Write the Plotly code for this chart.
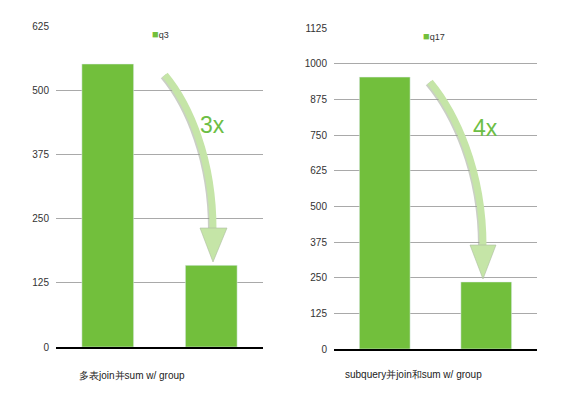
import plotly.graph_objects as go

# ---- data ----
left_categories = ["q3 before", "q3 after"]
left_values = [551, 159]
right_categories = ["q17 before", "q17 after"]
right_values = [953, 235]
left_series = "q3"
right_series = "q17"
left_title = "多表join并sum w/ group"
right_title = "subquery并join和sum w/ group"
left_ratio = "3x"
right_ratio = "4x"
left_ticks = [0, 125, 250, 375, 500, 625]
right_ticks = [0, 125, 250, 375, 500, 625, 750, 875, 1000, 1125]

BAR = "#72BF3C"
ARROW = "#C5E5A7"
TXT = "#6DBE45"
FONT = "Liberation Sans, Arial, sans-serif"

OFF = 8  # page body margin
W, H = 569 - OFF, 393 - OFF
ML, MR, MT, MB = 56 - OFF, 32, 26 - OFF, 44
PW, PH = W - ML - MR, H - MT - MB


def px(x, y):
    # x, y in screenshot pixels
    x -= OFF
    y -= OFF
    return (x - ML) / PW, (H - MB - y) / PH


def path(points_cmds):
    out = []
    for cmd, pts in points_cmds:
        s = cmd
        s += " ".join("%.5f,%.5f" % px(*p) for p in pts)
        out.append(s)
    return " ".join(out)


fig = go.Figure()
fig.add_trace(go.Bar(x=left_categories, y=left_values, marker_color=BAR,
                     name=left_series, xaxis="x", yaxis="y", showlegend=False))
fig.add_trace(go.Bar(x=right_categories, y=right_values, marker_color=BAR,
                     name=right_series, xaxis="x2", yaxis="y2", showlegend=False))

axis_common = dict(showgrid=True, gridcolor="#A9A9A9", gridwidth=1,
                   tickfont=dict(family=FONT, size=10, color="#333333"),
                   ticks="", zeroline=False, ticklabelstandoff=6)
fig.update_layout(
    width=W, height=H,
    margin=dict(l=ML, r=MR, t=MT, b=MB),
    paper_bgcolor="white", plot_bgcolor="white",
    bargap=0.5,
    xaxis=dict(domain=[0, 207 / PW], showticklabels=False, showgrid=False,
               showline=True, linecolor="black", linewidth=1.5, anchor="y"),
    xaxis2=dict(domain=[278 / PW, 1.0], showticklabels=False, showgrid=False,
                showline=True, linecolor="black", linewidth=1.5, anchor="y2"),
    yaxis=dict(domain=[2 / PH, 1.0], range=[0, 625], tickvals=left_ticks,
               anchor="x", **axis_common),
    yaxis2=dict(domain=[0, 1 - 2 / PH], range=[0, 1125], tickvals=right_ticks,
                anchor="x2", **axis_common),
)

# curved arrows (decoration)
def arrow(start, c1, c2, end, head):
    shaft = path([("M", [start]), ("C", [c1, c2, end])])
    shadow = path([("M", [(start[0] - 1.5, start[1] + 1)]),
                   ("C", [(c1[0] - 1.5, c1[1] + 1), (c2[0] - 1.5, c2[1] + 1), (end[0] - 1.5, end[1])])])
    fig.add_shape(type="path", path=shadow, xref="paper", yref="paper",
                  line=dict(color="rgba(150,160,140,0.5)", width=7))
    fig.add_shape(type="path", path=shaft, xref="paper", yref="paper",
                  line=dict(color=ARROW, width=7))
    tri = path([("M", [head[0]]), ("L", [head[1]]), ("L", [head[2]])]) + " Z"
    fig.add_shape(type="path", path=tri, xref="paper", yref="paper",
                  fillcolor=ARROW, line=dict(color="rgba(170,185,160,0.7)", width=0.8))

arrow((165, 75), (190, 105), (213, 160), (213, 229),
      [(200, 228), (227, 228), (213, 262)])
arrow((430, 82), (455, 112), (483, 170), (483, 246),
      [(470, 245), (496, 245), (483, 279)])

def ann(x, y, text, size, color, xanchor="center"):
    fx, fy = px(x, y)
    fig.add_annotation(x=fx, y=fy, xref="paper", yref="paper", text=text,
                       showarrow=False, xanchor=xanchor, yanchor="middle",
                       font=dict(family=FONT, size=size, color=color))

ann(212, 125, left_ratio, 23, TXT)
ann(485, 128, right_ratio, 23, TXT)
ann(150, 34, '<span style="color:%s;font-size:11px">■</span>%s' % (BAR, left_series), 9, "#333333", "left")
ann(421, 36, '<span style="color:%s;font-size:11px">■</span>%s' % (BAR, right_series), 9, "#333333", "left")
ann(77, 375, left_title, 10, "#222222", "left")
ann(343, 374, right_title, 10, "#222222", "left")

fig.write_html("out.html")
